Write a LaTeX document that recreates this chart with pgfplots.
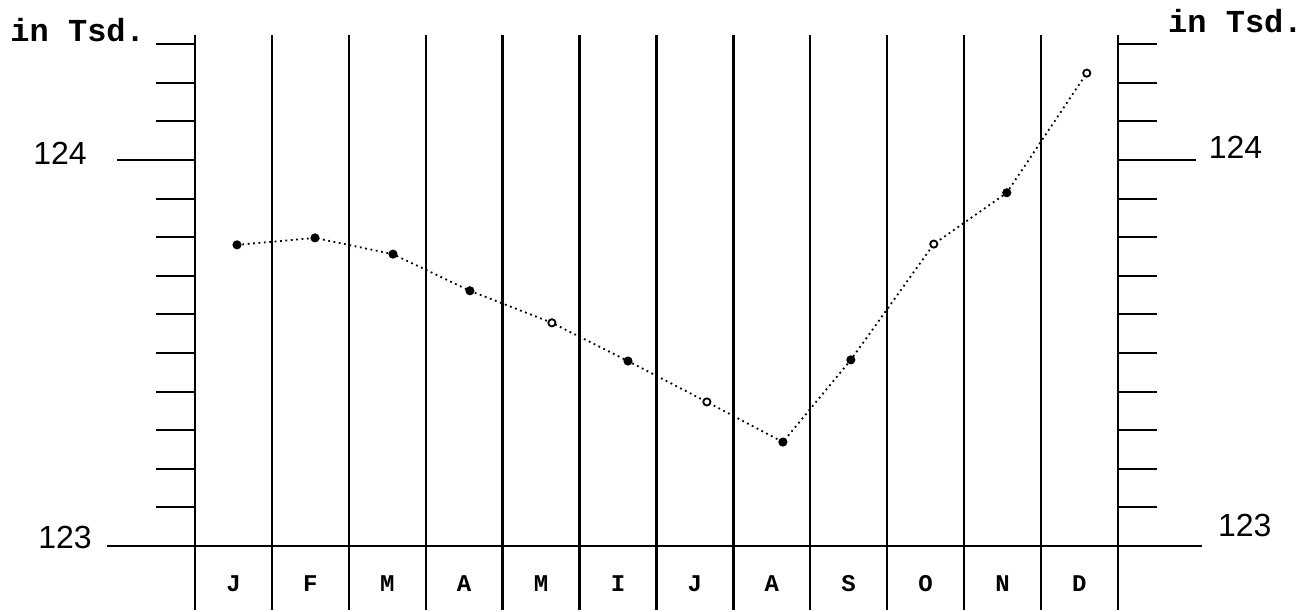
\documentclass[border=0pt]{standalone}
\usepackage{pgfplots}
\pgfplotsset{compat=1.18}
\usepackage{fontspec}
\newfontfamily\typew{Liberation Mono}
\newfontfamily\numf{Liberation Sans}

\begin{document}
\begin{tikzpicture}
\begin{axis}[
    scale only axis,
    width=461.5pt, height=287.5pt,
    xmin=0, xmax=12, ymin=122.8342, ymax=124.3238,
    enlargelimits=false, clip=false,
    separate axis lines,
    x axis line style={draw=none},
    y axis line style={line width=1.2pt},
    xtick={0.5,1.5,...,11.5},
    xticklabels={J,F,M,A,M,I,J,A,S,O,N,D},
    xtick style={draw=none, overlay},
    xtick pos=bottom,
    xticklabel style={font=\typew\bfseries\fontsize{12}{12}\selectfont, anchor=center, yshift=32.5pt},
    extra x ticks={1,2,...,11},
    extra x tick labels={},
    extra x tick style={grid=major, major grid style={black, line width=1.2pt}},
    ytick={123.1,123.2,123.3,123.4,123.5,123.6,123.7,123.8,123.9,124.1,124.2,124.3},
    yticklabels={},
    ytick pos=both,
    tick align=outside,
    major tick length=19.5pt,
    ytick style={line width=1pt, black},
    extra y ticks={124},
    extra y tick labels={},
    extra y tick style={major tick length=39pt},
]

% baseline at 123 and picture frame
\draw[line width=1pt] (axis cs:-1.144,123) -- (axis cs:13.09,123);
\path (axis cs:-2.536,122.8342) rectangle (axis cs:14.473,124.4145);

% axis annotations
\node[font=\typew\bfseries\fontsize{16}{16}\selectfont, anchor=base west, inner sep=0] at (axis cs:-2.405,124.3057) {in Tsd.};
\node[font=\typew\bfseries\fontsize{16}{16}\selectfont, anchor=base west, inner sep=0] at (axis cs:12.65,124.329) {in Tsd.};
\node[font=\numf\fontsize{16}{16}\selectfont, inner sep=0] at (axis cs:-1.755,124.018) {124};
\node[font=\numf\fontsize{16}{16}\selectfont, inner sep=0] at (axis cs:-1.69,123.023) {123};
\node[font=\numf\fontsize{16}{16}\selectfont, inner sep=0] at (axis cs:13.53,124.034) {124};
\node[font=\numf\fontsize{16}{16}\selectfont, inner sep=0] at (axis cs:13.65,123.054) {123};

% monthly values, f = filled dot, o = open dot
\addplot[black, line width=0.9pt, dash pattern=on 0.9pt off 1.8pt,
    scatter, scatter src=explicit symbolic,
    scatter/classes={
        f={mark=*, mark size=1.8pt, solid, draw=black, fill=black},
        o={mark=*, mark size=1.8pt, solid, draw=black, fill=white, line width=0.9pt}}]
    table[x=x, y=y, meta=c] {
x      y        c
0.546  123.780  f
1.560  123.798  f
2.574  123.756  f
3.575  123.661  f
4.641  123.578  o
5.630  123.479  f
6.656  123.373  o
7.644  123.269  f
8.528  123.482  f
9.607  123.782  o
10.556 123.915  f
11.596 124.225  o
};
\end{axis}
\end{tikzpicture}
\end{document}
